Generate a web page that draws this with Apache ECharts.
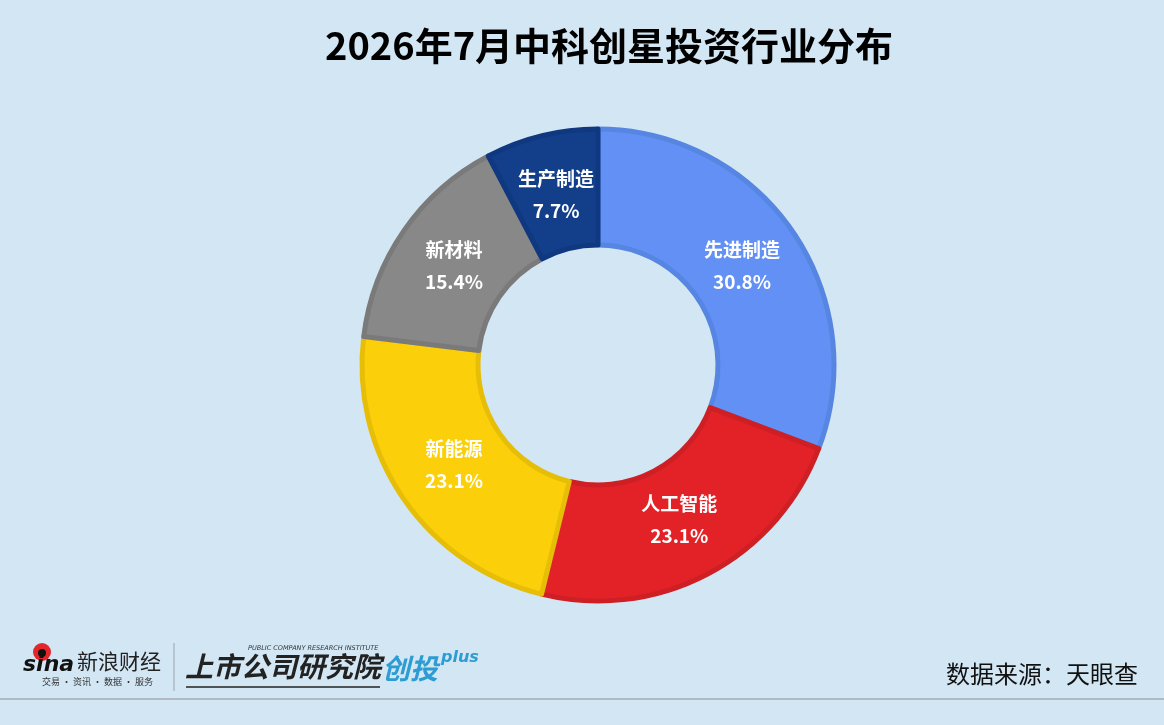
<!DOCTYPE html>
<html>
<head>
<meta charset="utf-8">
<script src="https://cdn.jsdelivr.net/npm/echarts@6/dist/echarts.min.js"></script>
<style>
  html, body { margin: 0; padding: 0; background: #D2E6F4; }
  #chart { width: 1164px; height: 725px; }
</style>
</head>
<body>
<div id="chart"></div>
<script>
// 行业分布（百分比，读图）
var industries = ['先进制造', '人工智能', '新能源', '新材料', '生产制造']
var shares = [30.8, 23.1, 23.1, 15.4, 7.7]
var fillColors = ['#6290F4', '#E32227', '#FBD00A', '#888888', '#133F8A']
var edgeColors = ['#5686E2', '#CE1F24', '#E6BE08', '#7A7A7A', '#0F3880']

var chart = echarts.init(document.getElementById('chart'))

var pieData = industries.map(function (name, i) {
  return {
    name: name,
    value: shares[i],
    itemStyle: { color: fillColors[i], borderColor: edgeColors[i] }
  }
})

var cjk = '"Noto Sans CJK SC", "Noto Sans", sans-serif'

var option = {
  backgroundColor: '#D2E6F4',
  title: {
    text: '2026年7月中科创星投资行业分布',
    left: 320,
    top: 22,
    textStyle: { fontFamily: cjk, fontSize: 38, fontWeight: 'bold', color: '#000' }
  },
  series: [{
    type: 'pie',
    center: [598, 365],
    radius: [120, 236],
    startAngle: 90,
    clockwise: true,
    silent: true,
    itemStyle: { borderWidth: 5 },
    label: { show: false },
    labelLine: { show: false },
    data: pieData
  }, {
    // 只放标签，让标签略靠内一些
    type: 'pie',
    center: [598, 365],
    radius: [108, 236],
    startAngle: 90,
    clockwise: true,
    silent: true,
    itemStyle: { color: 'rgba(0,0,0,0)', borderWidth: 0 },
    label: {
      position: 'inside',
      color: '#fff',
      fontFamily: cjk,
      fontSize: 19,
      fontWeight: 'bold',
      lineHeight: 32,
      formatter: function (p) { return p.name + '\n' + p.value.toFixed(1) + '%' }
    },
    labelLine: { show: false },
    data: industries.map(function (name, i) { return { name: name, value: shares[i] } })
  }],
  graphic: [
    // 底部分隔线
    { type: 'line', shape: { x1: 0, y1: 699, x2: 1164, y2: 699 }, style: { stroke: '#A3ABB3', lineWidth: 1.5 } },
    { type: 'text', right: 26, top: 662, style: { text: '数据来源：天眼查', font: '24px ' + cjk, fill: '#111' } },
    // sina logo
    { type: 'circle', shape: { cx: 42, cy: 652, r: 9 }, style: { fill: '#E3262C' } },
    { type: 'circle', shape: { cx: 42, cy: 653, r: 4 }, style: { fill: '#111' } },
    { type: 'text', left: 23, top: 654, style: { text: 'sina', font: 'italic bold 22px "DejaVu Sans", sans-serif', fill: '#111' } },
    { type: 'text', left: 77, top: 651, style: { text: '新浪财经', font: '21px ' + cjk, fill: '#222' } },
    { type: 'text', left: 42, top: 677, style: { text: '交易 · 资讯 · 数据 · 服务', font: '9px ' + cjk, fill: '#333' } },
    { type: 'line', shape: { x1: 174, y1: 643, x2: 174, y2: 691 }, style: { stroke: '#9AA3AB', lineWidth: 1 } },
    // 上市公司研究院 创投plus
    { type: 'text', left: 248, top: 645, style: { text: 'PUBLIC COMPANY RESEARCH INSTITUTE', font: 'italic 6.5px "DejaVu Sans", sans-serif', fill: '#333' } },
    { type: 'text', left: 185, top: 652, style: { text: '上市公司研究院', font: 'italic bold 28px ' + cjk, fill: '#222' } },
    { type: 'line', shape: { x1: 186, y1: 687, x2: 380, y2: 687 }, style: { stroke: '#222', lineWidth: 1.5 } },
    { type: 'text', left: 382, top: 654, style: { text: '创投', font: 'italic bold 28px ' + cjk, fill: '#2C9CD2' } },
    { type: 'text', left: 441, top: 650, style: { text: 'plus', font: 'italic bold 16px "DejaVu Sans", sans-serif', fill: '#2C9CD2' } }
  ]
}

chart.setOption(option)
</script>
</body>
</html>
